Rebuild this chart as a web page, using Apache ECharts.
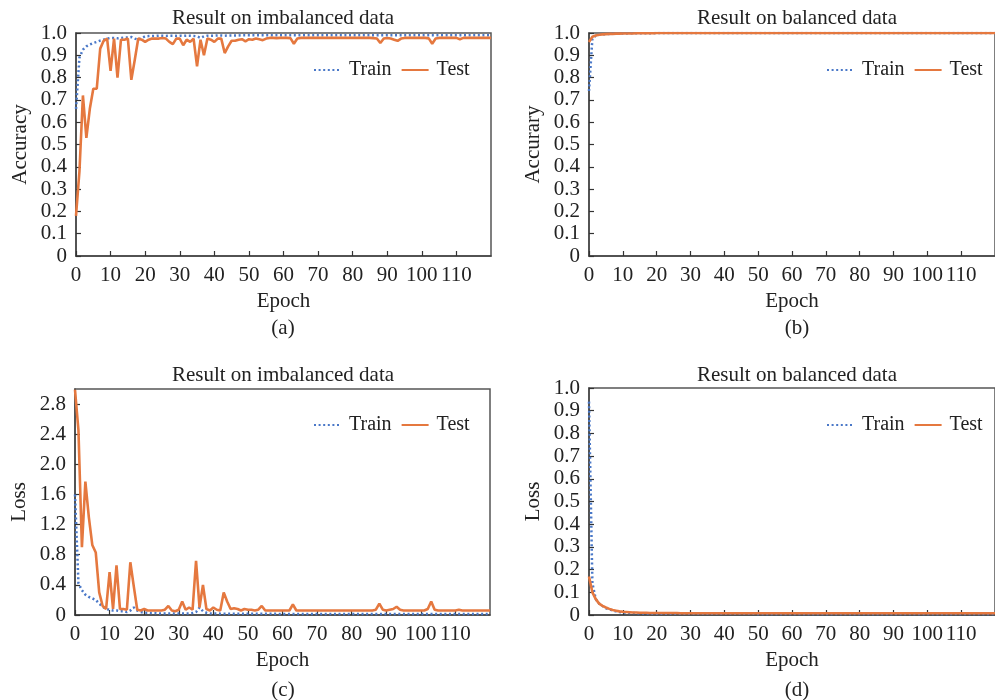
<!DOCTYPE html>
<html>
<head>
<meta charset="utf-8">
<script src="https://cdn.jsdelivr.net/npm/echarts@6/dist/echarts.min.js"></script>
<style>
  html,body{margin:0;padding:0;background:#fff;}
  #main{width:995px;height:700px;}
</style>
</head>
<body>
<div id="main"></div>
<script>
// epochs 0..120
var epochs=[];
for(var i=0;i<=120;i++){ epochs.push(i); }

var xTicks=[0,10,20,30,40,50,60,70,80,90,100,110];

// (a) accuracy, imbalanced
var trainAccImb=[0.66,0.89,0.925,0.94,0.948,0.955,0.96,0.966,0.97,0.975,
 0.978,0.978,0.976,0.978,0.98,0.98,0.982,0.975,0.97,0.978,
 0.985,0.986,0.987,0.987,0.988,0.988,0.987,0.988,0.988,0.987,
 0.988,0.987,0.988,0.988,0.987,0.985,0.978,0.985,0.988,0.988,
 0.988,0.989,0.989,0.988,0.989,0.989,0.989,0.989,0.99,0.99,
 0.99,0.99,0.99,0.99,0.99,0.99,0.99,0.99,0.99,0.99,
 0.99,0.99,0.99,0.99,0.99,0.99,0.99,0.99,0.99,0.99,
 0.99,0.99,0.99,0.99,0.99,0.99,0.99,0.99,0.99,0.99,
 0.99,0.99,0.99,0.99,0.99,0.99,0.99,0.99,0.99,0.99,
 0.99,0.99,0.99,0.99,0.99,0.99,0.99,0.99,0.99,0.99,
 0.99,0.99,0.99,0.99,0.99,0.99,0.99,0.99,0.99,0.99,
 0.99,0.99,0.99,0.99,0.99,0.99,0.99,0.99,0.99,0.99,
 0.99];
var testAccImb=[0.18,0.38,0.72,0.53,0.66,0.75,0.75,0.93,0.965,0.975,
 0.83,0.975,0.80,0.97,0.97,0.975,0.79,0.88,0.975,0.97,
 0.96,0.97,0.975,0.975,0.975,0.978,0.975,0.96,0.95,0.975,
 0.975,0.945,0.97,0.96,0.975,0.85,0.97,0.90,0.975,0.97,
 0.96,0.975,0.975,0.91,0.94,0.965,0.965,0.97,0.972,0.963,
 0.972,0.97,0.975,0.972,0.968,0.975,0.978,0.978,0.977,0.978,
 0.978,0.978,0.977,0.952,0.975,0.978,0.978,0.978,0.978,0.978,
 0.978,0.978,0.978,0.978,0.978,0.978,0.978,0.978,0.978,0.978,
 0.978,0.978,0.978,0.978,0.978,0.978,0.977,0.975,0.955,0.975,
 0.978,0.975,0.97,0.965,0.975,0.978,0.978,0.978,0.978,0.978,
 0.978,0.978,0.976,0.952,0.975,0.978,0.978,0.978,0.978,0.978,
 0.978,0.972,0.978,0.978,0.978,0.978,0.978,0.978,0.978,0.978,
 0.978];

// (b) accuracy, balanced
var trainAccBal=[0.74,0.975,0.988,0.992,0.994,0.995,0.996,0.997,0.997,0.998,
 0.998,0.998,0.999,0.999,0.999,0.999,0.999,0.999,0.999,0.999,
 1,1,1,1,1,1,1,1,1,1, 1,1,1,1,1,1,1,1,1,1,
 1,1,1,1,1,1,1,1,1,1, 1,1,1,1,1,1,1,1,1,1,
 1,1,1,1,1,1,1,1,1,1, 1,1,1,1,1,1,1,1,1,1,
 1,1,1,1,1,1,1,1,1,1, 1,1,1,1,1,1,1,1,1,1,
 1,1,1,1,1,1,1,1,1,1, 1,1,1,1,1,1,1,1,1,1,
 1];
var testAccBal=[0.96,0.983,0.989,0.992,0.994,0.995,0.996,0.996,0.997,0.997,
 0.998,0.998,0.998,0.998,0.999,0.999,0.999,0.999,0.999,0.999,
 1,1,1,1,1,1,1,1,1,1, 1,1,1,1,1,1,1,1,1,1,
 1,1,1,1,1,1,1,1,1,1, 1,1,1,1,1,1,1,1,1,1,
 1,1,1,1,1,1,1,1,1,1, 1,1,1,1,1,1,1,1,1,1,
 1,1,1,1,1,1,1,1,1,1, 1,1,1,1,1,1,1,1,1,1,
 1,1,1,1,1,1,1,1,1,1, 1,1,1,1,1,1,1,1,1,1,
 1];

// (c) loss, imbalanced
var trainLossImb=[1.6,0.42,0.33,0.27,0.24,0.22,0.2,0.15,0.11,0.08,
 0.07,0.06,0.06,0.05,0.05,0.04,0.06,0.1,0.06,0.04,
 0.03,0.03,0.025,0.025,0.02,0.02,0.02,0.02,0.02,0.02,
 0.02,0.02,0.02,0.02,0.025,0.04,0.1,0.05,0.03,0.02,
 0.02,0.02,0.018,0.018,0.018,0.018,0.017,0.017,0.017,0.016,
 0.016,0.016,0.016,0.015,0.015,0.015,0.015,0.015,0.015,0.014,
 0.014,0.014,0.014,0.014,0.014,0.014,0.013,0.013,0.013,0.013,
 0.013,0.013,0.013,0.013,0.013,0.012,0.012,0.012,0.012,0.012,
 0.012,0.012,0.012,0.012,0.012,0.012,0.012,0.012,0.012,0.012,
 0.012,0.012,0.012,0.012,0.012,0.012,0.012,0.012,0.012,0.012,
 0.012,0.012,0.012,0.012,0.012,0.012,0.012,0.012,0.012,0.012,
 0.012,0.012,0.012,0.012,0.012,0.012,0.012,0.012,0.012,0.012,
 0.012];
var testLossImb=[2.99,2.45,0.9,1.77,1.3,0.93,0.83,0.3,0.12,0.08,
 0.57,0.08,0.66,0.08,0.08,0.07,0.70,0.38,0.07,0.06,
 0.08,0.06,0.06,0.06,0.06,0.06,0.07,0.12,0.06,0.05,
 0.07,0.18,0.07,0.1,0.07,0.72,0.1,0.4,0.08,0.06,
 0.1,0.07,0.06,0.3,0.18,0.08,0.09,0.08,0.06,0.08,
 0.07,0.07,0.06,0.07,0.12,0.06,0.06,0.06,0.06,0.06,
 0.06,0.06,0.06,0.14,0.06,0.06,0.06,0.06,0.06,0.06,
 0.06,0.06,0.06,0.06,0.06,0.06,0.06,0.06,0.06,0.06,
 0.06,0.06,0.06,0.06,0.06,0.06,0.06,0.07,0.15,0.07,
 0.06,0.07,0.08,0.11,0.07,0.06,0.06,0.06,0.06,0.06,
 0.06,0.06,0.08,0.18,0.07,0.06,0.06,0.06,0.06,0.06,
 0.06,0.07,0.06,0.06,0.06,0.06,0.06,0.06,0.06,0.06,
 0.06];

// (d) loss, balanced
var trainLossBal=[0.94,0.14,0.07,0.05,0.04,0.03,0.025,0.02,0.016,0.013,
 0.011,0.01,0.009,0.009,0.008,0.008,0.007,0.007,0.007,0.006,
 0.006,0.006,0.006,0.006,0.006,0.005,0.005,0.005,0.005,0.005,
 0.005,0.005,0.005,0.005,0.005,0.005,0.005,0.005,0.005,0.005,
 0.005,0.005,0.005,0.005,0.005,0.005,0.005,0.005,0.005,0.005,
 0.004,0.004,0.004,0.004,0.004,0.004,0.004,0.004,0.004,0.004,
 0.004,0.004,0.004,0.004,0.004,0.004,0.004,0.004,0.004,0.004,
 0.004,0.004,0.004,0.004,0.004,0.004,0.004,0.004,0.004,0.004,
 0.004,0.004,0.004,0.004,0.004,0.004,0.004,0.004,0.004,0.004,
 0.004,0.004,0.004,0.004,0.004,0.004,0.004,0.004,0.004,0.004,
 0.004,0.004,0.004,0.004,0.004,0.004,0.004,0.004,0.004,0.004,
 0.004,0.004,0.004,0.004,0.004,0.004,0.004,0.004,0.004,0.004,
 0.004];
var testLossBal=[0.17,0.1,0.07,0.05,0.04,0.033,0.027,0.022,0.019,0.016,
 0.014,0.013,0.012,0.011,0.011,0.01,0.01,0.01,0.009,0.009,
 0.009,0.009,0.009,0.009,0.009,0.009,0.009,0.008,0.008,0.008,
 0.008,0.008,0.008,0.008,0.008,0.008,0.008,0.008,0.008,0.008,
 0.008,0.008,0.008,0.008,0.008,0.008,0.008,0.008,0.008,0.008,
 0.008,0.008,0.008,0.008,0.008,0.008,0.008,0.008,0.008,0.008,
 0.008,0.008,0.008,0.008,0.008,0.008,0.008,0.008,0.008,0.008,
 0.008,0.008,0.008,0.008,0.008,0.008,0.008,0.008,0.008,0.008,
 0.008,0.008,0.008,0.008,0.008,0.008,0.008,0.008,0.008,0.008,
 0.008,0.008,0.008,0.008,0.008,0.008,0.008,0.008,0.008,0.008,
 0.008,0.008,0.008,0.008,0.008,0.008,0.008,0.008,0.008,0.008,
 0.008,0.008,0.008,0.008,0.008,0.008,0.008,0.008,0.008,0.008,
 0.008];

var titles=['Result on imbalanced data','Result on balanced data','Result on imbalanced data','Result on balanced data'];
var yNames=['Accuracy','Accurary','Loss','Loss'];
var panelTags=['(a)','(b)','(c)','(d)'];

var font='"Liberation Serif","DejaVu Serif",serif';
var blue='#4a78c8';
var orange='#e5783f';

function pairs(arr){
  var out=[];
  for(var k=0;k<arr.length;k++){ out.push([epochs[k],arr[k]]); }
  return out;
}
function yFmt(v){
  if(v===0) return '0';
  return v.toFixed(1);
}

var grids=[
  {left:76,top:33,width:415,height:223},
  {left:589,top:33,width:415,height:223},
  {left:75,top:389,width:415,height:226},
  {left:589,top:388,width:415,height:227}
];
var yMax=[1,1,3,1];
var yStep=[0.1,0.1,0.4,0.1];
var legendPos=[[313,60],[826,60],[313,415],[826,415]];
var centers=[[283,18],[797,18],[283,375],[797,375]];
var tagY=[328,328,690,690];
var seriesData=[[trainAccImb,testAccImb],[trainAccBal,testAccBal],[trainLossImb,testLossImb],[trainLossBal,testLossBal]];

var option={
  animation:false,
  backgroundColor:'#fff',
  textStyle:{fontFamily:font},
  grid:[],xAxis:[],yAxis:[],series:[],legend:[],graphic:[]
};

for(var p=0;p<4;p++){
  var g=grids[p];
  option.grid.push({left:g.left,top:g.top,width:g.width,height:g.height,show:true,
    borderColor:'#555',borderWidth:1.5,backgroundColor:'transparent'});
  option.xAxis.push({
    type:'value',gridIndex:p,min:0,max:120,interval:10,
    name:'Epoch',nameLocation:'middle',nameGap:35,
    nameTextStyle:{fontFamily:font,fontSize:21,color:'#222'},
    axisLine:{lineStyle:{color:'#444',width:1.5}},
    axisTick:{inside:true,length:5,lineStyle:{color:'#333',width:1.2}},
    axisLabel:{fontFamily:font,fontSize:21,color:'#222',margin:9,showMaxLabel:false,
      formatter:function(v){ return xTicks.indexOf(v)>=0 ? String(v) : ''; }},
    splitLine:{show:false}
  });
  option.yAxis.push({
    type:'value',gridIndex:p,min:0,max:yMax[p],interval:yStep[p],
    name:yNames[p],nameLocation:'middle',nameGap:45,
    nameTextStyle:{fontFamily:font,fontSize:21,color:'#222'},
    axisLine:{show:true,lineStyle:{color:'#444',width:1.5}},
    axisTick:{show:true,inside:true,length:5,lineStyle:{color:'#333',width:1.2}},
    axisLabel:{fontFamily:font,fontSize:21,color:'#222',margin:9,
      showMaxLabel:p===2?false:true,formatter:yFmt},
    splitLine:{show:false}
  });
  option.series.push({
    name:'Train',type:'line',xAxisIndex:p,yAxisIndex:p,
    data:pairs(seriesData[p][0]),symbol:'none',showSymbol:false,
    lineStyle:{color:blue,width:2.5,type:[2,2.6]},itemStyle:{color:blue}
  });
  option.series.push({
    name:'Test',type:'line',xAxisIndex:p,yAxisIndex:p,
    data:pairs(seriesData[p][1]),symbol:'none',showSymbol:false,
    lineStyle:{color:orange,width:2.6},itemStyle:{color:orange}
  });
  option.legend.push({
    data:['Train','Test'],left:legendPos[p][0],top:legendPos[p][1],padding:0,
    itemWidth:27,itemHeight:12,itemGap:9,selectedMode:false,
    itemStyle:{color:'rgba(0,0,0,0)',borderColor:'rgba(0,0,0,0)',borderWidth:0},
    textStyle:{fontFamily:font,fontSize:20,color:'#222',padding:[0,0,0,3]}
  });
  option.graphic.push({type:'text',x:centers[p][0],y:centers[p][1],
    style:{text:titles[p],font:'21px '+font,fill:'#222',textAlign:'center',textVerticalAlign:'middle'}});
  option.graphic.push({type:'text',x:centers[p][0],y:tagY[p],
    style:{text:panelTags[p],font:'21px '+font,fill:'#222',textAlign:'center',textVerticalAlign:'middle'}});
}

var myChart=echarts.init(document.getElementById('main'));
myChart.setOption(option);
</script>
</body>
</html>
